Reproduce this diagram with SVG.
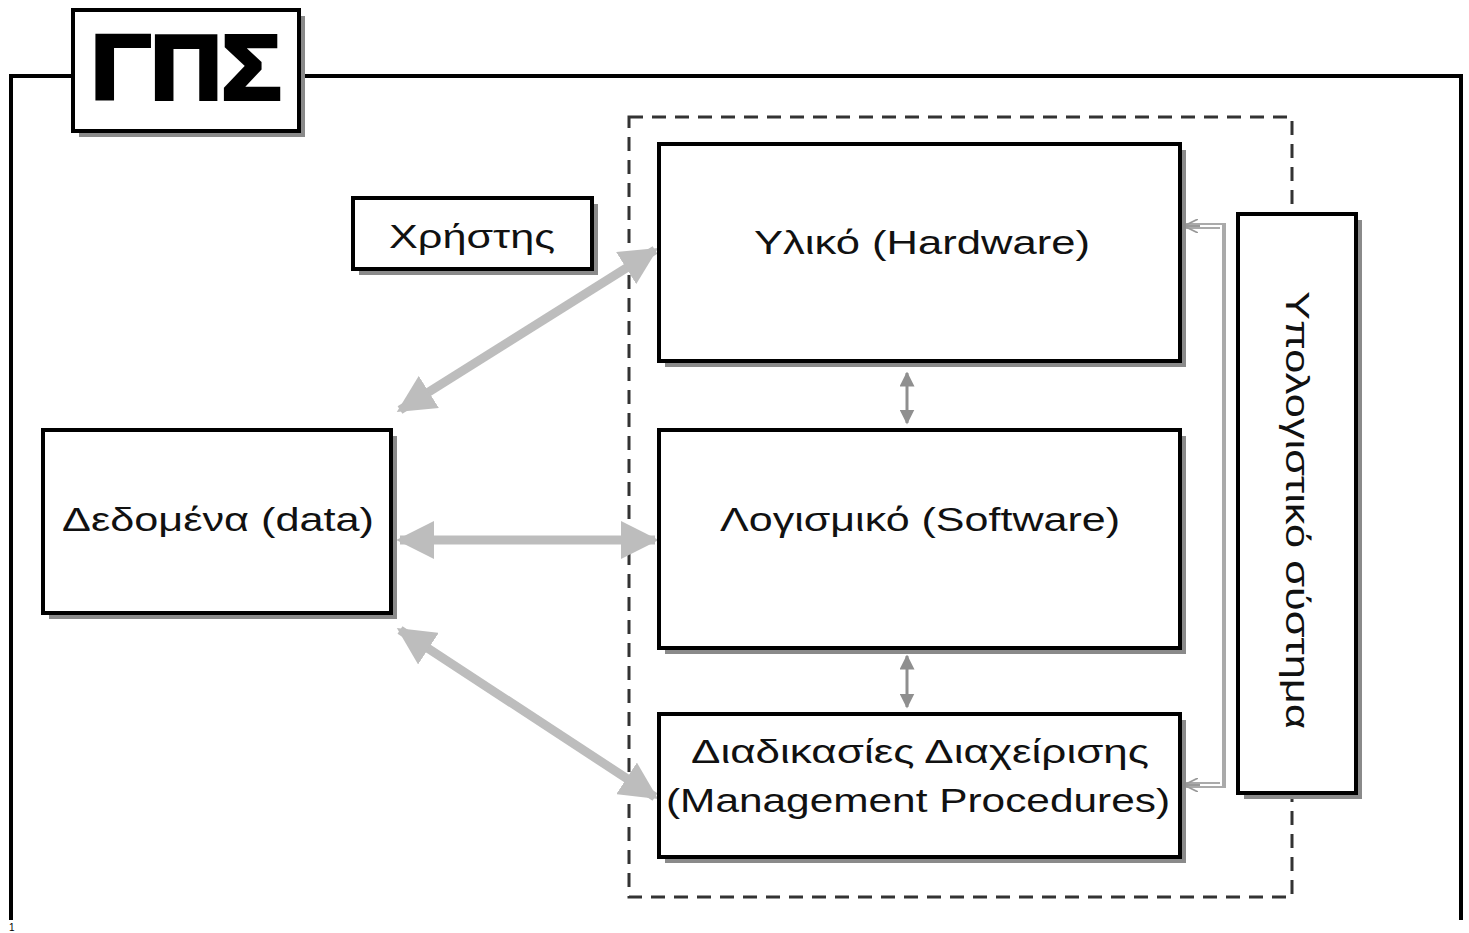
<svg xmlns="http://www.w3.org/2000/svg" width="1469" height="933" viewBox="0 0 1469 933">
<style>
.box{fill:#fff;stroke:#000;stroke-width:4}
.sh{fill:#8a8a8a}
.t{font-family:"Liberation Sans",Arial,sans-serif;font-size:34px;fill:#111;text-anchor:middle}
.big{stroke:#bdbdbd;stroke-width:9;fill:none}
.small{stroke:#8f8f8f;stroke-width:3;fill:none}
</style>
<defs>
<marker id="ah" viewBox="0 0 10 10" refX="9" refY="5" markerWidth="4.2" markerHeight="4.2" orient="auto-start-reverse" markerUnits="strokeWidth">
<path d="M0,0 L10,5 L0,10 Z" fill="#bdbdbd"/>
</marker>
<marker id="as" viewBox="0 0 10 10" refX="9" refY="5" markerWidth="5" markerHeight="5" orient="auto-start-reverse" markerUnits="strokeWidth">
<path d="M0,0 L10,5 L0,10 Z" fill="#8f8f8f"/>
</marker>
<marker id="ao" viewBox="0 0 10 10" refX="10" refY="5" markerWidth="7" markerHeight="7" orient="auto-start-reverse" markerUnits="strokeWidth">
<path d="M0,0 L10,5 L0,10" fill="none" stroke="#999" stroke-width="1.2"/>
</marker>
</defs>
<rect width="1469" height="933" fill="#fff"/>
<g id="frame">
<path d="M11,920 V76 H73 M299,76 H1461 V920" fill="none" stroke="#000" stroke-width="4"/>
<rect x="629" y="117" width="663" height="780" fill="none" stroke="#333" stroke-width="3" stroke-dasharray="14,9"/>
</g>
<g id="connectors">
<line class="big" x1="400" y1="410" x2="655" y2="250" marker-start="url(#ah)" marker-end="url(#ah)"/>
<line class="big" x1="400" y1="540" x2="655" y2="540" marker-start="url(#ah)" marker-end="url(#ah)"/>
<line class="big" x1="400" y1="630" x2="655" y2="797" marker-start="url(#ah)" marker-end="url(#ah)"/>
<line class="small" x1="907" y1="373" x2="907" y2="423" marker-start="url(#as)" marker-end="url(#as)"/>
<line class="small" x1="907" y1="656" x2="907" y2="707" marker-start="url(#as)" marker-end="url(#as)"/>
<path d="M1184,226 H1223 V785 H1184" fill="none" stroke="#aaa" stroke-width="6"/>
<path d="M1186,226 H1221 V785 H1186" fill="none" stroke="#fff" stroke-width="2"/>
<line x1="1200" y1="226" x2="1184" y2="226" stroke="#999" stroke-width="2" marker-end="url(#ao)"/>
<line x1="1200" y1="785" x2="1184" y2="785" stroke="#999" stroke-width="2" marker-end="url(#ao)"/>
</g>
<g id="gps">
<rect class="sh" x="79" y="16" width="226" height="121"/>
<rect class="box" x="73" y="10" width="226" height="121"/>
<text x="186" y="99" font-family="'Liberation Sans',Arial,sans-serif" font-weight="bold" font-size="90" text-anchor="middle" textLength="190" lengthAdjust="spacingAndGlyphs" stroke="#000" stroke-width="4">ΓΠΣ</text>
</g>
<g id="xristis">
<rect class="sh" x="359" y="204" width="239" height="71"/>
<rect class="box" x="353" y="198" width="239" height="71"/>
<text class="t" x="472" y="248" textLength="166" lengthAdjust="spacingAndGlyphs">Χρήστης</text>
</g>
<g id="dedomena">
<rect class="sh" x="49" y="436" width="348" height="183"/>
<rect class="box" x="43" y="430" width="348" height="183"/>
<text class="t" x="218" y="531" textLength="312" lengthAdjust="spacingAndGlyphs">Δεδομένα (data)</text>
</g>
<g id="hardware">
<rect class="sh" x="665" y="150" width="521" height="217"/>
<rect class="box" x="659" y="144" width="521" height="217"/>
<text class="t" x="922" y="254" textLength="336" lengthAdjust="spacingAndGlyphs">Υλικό (Hardware)</text>
</g>
<g id="software">
<rect class="sh" x="665" y="436" width="521" height="218"/>
<rect class="box" x="659" y="430" width="521" height="218"/>
<text class="t" x="920" y="531" textLength="400" lengthAdjust="spacingAndGlyphs">Λογισμικό (Software)</text>
</g>
<g id="procedures">
<rect class="sh" x="665" y="720" width="521" height="143"/>
<rect class="box" x="659" y="714" width="521" height="143"/>
<text class="t" x="920" y="763" textLength="458" lengthAdjust="spacingAndGlyphs">Διαδικασίες Διαχείρισης</text>
<text class="t" x="918" y="812" textLength="504" lengthAdjust="spacingAndGlyphs">(Management Procedures)</text>
</g>
<g id="system">
<rect class="sh" x="1244" y="220" width="118" height="579"/>
<rect class="box" x="1238" y="214" width="118" height="579"/>
<text class="t" transform="translate(1286,510) rotate(90)" textLength="438" lengthAdjust="spacingAndGlyphs">Υπολογιστικό σύστημα</text>
</g>
<text x="9" y="931" font-family="'Liberation Sans',Arial,sans-serif" font-size="10" fill="#000">1</text>
</svg>
